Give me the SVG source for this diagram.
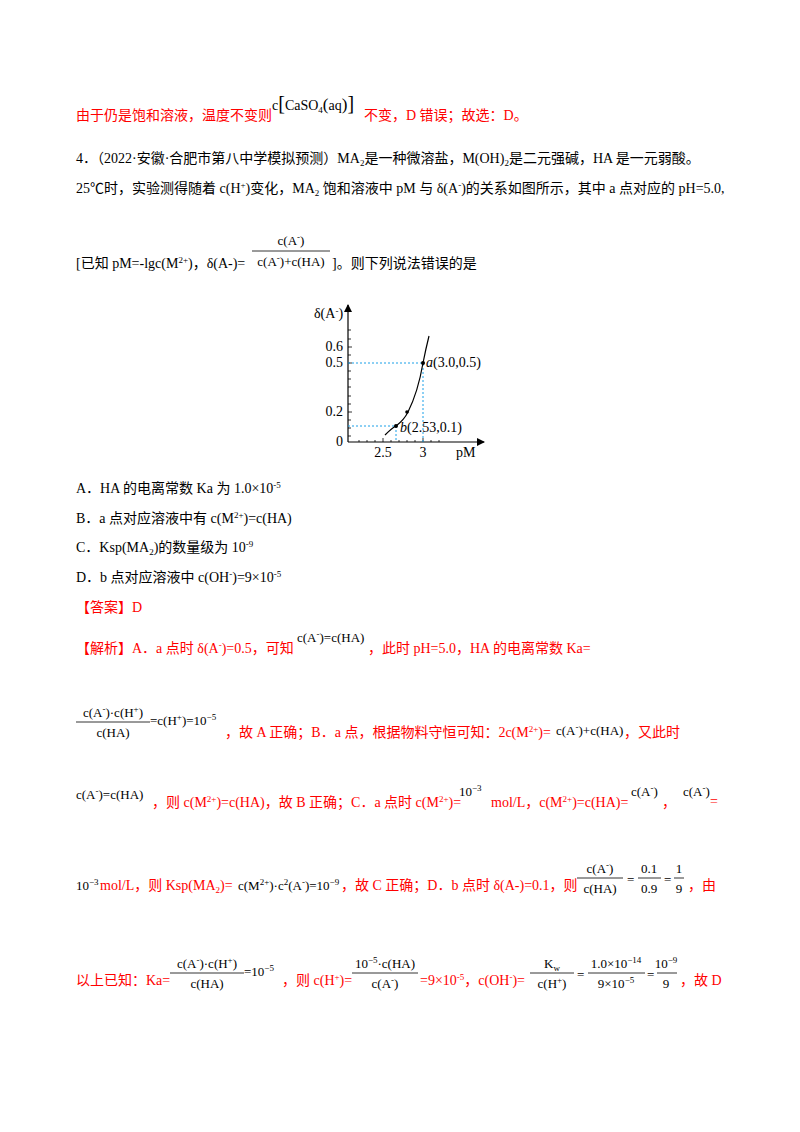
<svg xmlns="http://www.w3.org/2000/svg" width="800" height="1132" viewBox="0 0 800 1132">
<style>
text{font-family:"Liberation Serif","Noto Sans CJK SC",serif;font-size:14px;fill:#000}
.r{fill:#ff0000}
.m{font-size:13px}
.s{font-size:9px}
.ax{stroke:#000;stroke-width:1.2;fill:none}
.dot{stroke:#1aa0e8;stroke-width:1;stroke-dasharray:2 2;fill:none}
.bar{stroke:#000;stroke-width:0.8}
</style>
<defs><marker id="ar" markerWidth="8" markerHeight="8" refX="7" refY="4" orient="auto" markerUnits="userSpaceOnUse"><path d="M0,0 L8,4 L0,8 z" fill="#000"/></marker></defs>
<rect width="800" height="1132" fill="#fff"/>
<text x="76" y="120" class="r">由于仍是饱和溶液，温度不变则</text>
<text x="272" y="110" font-size="15">c<tspan font-size="20">[</tspan>CaSO<tspan class="s" dy="3">4</tspan><tspan dy="-3" font-size="17">(</tspan>aq<tspan font-size="17">)</tspan><tspan font-size="20">]</tspan></text>
<text x="364" y="120" class="r">不变，D 错误；故选：D。</text>
<text x="76" y="163">4．（2022·安徽·合肥市第八中学模拟预测）MA<tspan class="s" dy="3">2</tspan><tspan dy="-3">是一种微溶盐，M(OH)</tspan><tspan class="s" dy="3">2</tspan><tspan dy="-3">是二元强碱，HA 是一元弱酸。</tspan></text>
<text x="76" y="193">25℃时，实验测得随着 c(H<tspan class="s" dy="-5">+</tspan><tspan dy="5">)变化，MA</tspan><tspan class="s" dy="3">2</tspan><tspan dy="-3"> 饱和溶液中 pM 与 δ(A</tspan><tspan class="s" dy="-5">-</tspan><tspan dy="5">)的关系如图所示，其中 a 点对应的 pH=5.0,</tspan></text>
<text x="76" y="268">[已知 pM=-lgc(M<tspan class="s" dy="-5">2+</tspan><tspan dy="5">)，δ(A-)=</tspan></text>
<text x="291" y="245" class="m" text-anchor="middle">c(A<tspan class="s" dy="-5">-</tspan><tspan dy="5">)</tspan></text>
<line x1="252" y1="251" x2="330" y2="251" class="bar"/>
<text x="291" y="266" class="m" text-anchor="middle">c(A<tspan class="s" dy="-5">-</tspan><tspan dy="5">)+c(HA)</tspan></text>
<text x="332" y="268">]。则下列说法错误的是</text>
<g id="graph">
<line x1="348" y1="442" x2="348" y2="305" class="ax" marker-end="url(#ar)"/>
<line x1="348" y1="442" x2="484" y2="442" class="ax" marker-end="url(#ar)"/>
<path d="M348,347h4M348,363h4M348,412h4M348,330h3M348,339h3M348,355h3M348,371h3M348,379h3M348,387h3M348,396h3M348,404h3M348,420h3M348,428h3M348,436h3M383,442v-4M423,442v-4M359,442v-2M367,442v-2M375,442v-2M391,442v-2M399,442v-2M407,442v-2M415,442v-2M431,442v-2M439,442v-2" stroke="#000" stroke-width="0.8"/>
<path d="M348,363H423V442M348,426H396V442" class="dot"/>
<path d="M385,435 Q392,428 396,426 Q404,420 408,412 Q418,392 423,363 Q426,348 429,336" class="ax"/>
<circle cx="423" cy="363" r="2"/><circle cx="396" cy="426" r="2"/><circle cx="407" cy="412" r="1.8"/>
<text x="314" y="318" font-size="12">δ(A<tspan class="s" dy="-4">-</tspan><tspan dy="4">)</tspan></text>
<text x="343" y="351" font-size="12" text-anchor="end">0.6</text>
<text x="343" y="367" font-size="12" text-anchor="end">0.5</text>
<text x="343" y="416" font-size="12" text-anchor="end">0.2</text>
<text x="343" y="446" font-size="12" text-anchor="end">0</text>
<text x="383" y="457" font-size="12" text-anchor="middle">2.5</text>
<text x="423" y="457" font-size="12" text-anchor="middle">3</text>
<text x="456" y="457" font-size="12">pM</text>
<text x="426" y="367" font-size="12"><tspan font-style="italic">a</tspan>(3.0,0.5)</text>
<text x="400" y="432" font-size="12"><tspan font-style="italic">b</tspan>(2.53,0.1)</text>
</g>
<text x="76" y="493">A．HA 的电离常数 Ka 为 1.0×10<tspan class="s" dy="-5">-5</tspan></text>
<text x="76" y="523">B．a 点对应溶液中有 c(M<tspan class="s" dy="-5">2+</tspan><tspan dy="5">)=c(HA)</tspan></text>
<text x="76" y="552">C．Ksp(MA<tspan class="s" dy="3">2</tspan><tspan dy="-3">)的数量级为 10</tspan><tspan class="s" dy="-5">-9</tspan></text>
<text x="76" y="582">D．b 点对应溶液中 c(OH<tspan class="s" dy="-5">-</tspan><tspan dy="5">)=9×10</tspan><tspan class="s" dy="-5">-5</tspan></text>
<text x="76" y="612" class="r">【答案】D</text>
<text x="76" y="653" class="r">【解析】A．a 点时 δ(A<tspan class="s" dy="-5">-</tspan><tspan dy="5">)=0.5，可知</tspan></text>
<text x="297" y="642" class="m">c(A<tspan class="s" dy="-5">-</tspan><tspan dy="5">)=c(HA)</tspan></text>
<text x="368" y="653" class="r">，此时 pH=5.0，HA 的电离常数 Ka=</text>
<text x="113" y="717" class="m" text-anchor="middle">c(A<tspan class="s" dy="-5">-</tspan><tspan dy="5">)·c(H</tspan><tspan class="s" dy="-5">+</tspan><tspan dy="5">)</tspan></text>
<line x1="76" y1="722" x2="150" y2="722" class="bar"/>
<text x="113" y="737" class="m" text-anchor="middle">c(HA)</text>
<text x="150" y="725" class="m">=c(H<tspan class="s" dy="-5">+</tspan><tspan dy="5">)=10</tspan><tspan class="s" dy="-5">−5</tspan></text>
<text x="225" y="737" class="r">，故 A 正确；B．a 点，根据物料守恒可知：2c(M<tspan class="s" dy="-5">2+</tspan><tspan dy="5">)=</tspan></text>
<text x="556" y="735" class="m">c(A<tspan class="s" dy="-5">-</tspan><tspan dy="5">)+c(HA)</tspan></text>
<text x="624" y="737" class="r">，又此时</text>
<text x="76" y="799" class="m">c(A<tspan class="s" dy="-5">-</tspan><tspan dy="5">)=c(HA)</tspan></text>
<text x="152" y="807" class="r">，则 c(M<tspan class="s" dy="-5">2+</tspan><tspan dy="5">)=c(HA)，故 B 正确；C．a 点时 c(M</tspan><tspan class="s" dy="-5">2+</tspan><tspan dy="5">)=</tspan></text>
<text x="459" y="796" class="m">10<tspan class="s" dy="-5">−3</tspan></text>
<text x="491" y="807" class="r">mol/L，c(M<tspan class="s" dy="-5">2+</tspan><tspan dy="5">)=c(HA)=</tspan></text>
<text x="631" y="796" class="m">c(A<tspan class="s" dy="-5">-</tspan><tspan dy="5">)</tspan></text>
<text x="662" y="807" class="r">，</text>
<text x="683" y="796" class="m">c(A<tspan class="s" dy="-5">-</tspan><tspan dy="5">)</tspan></text>
<text x="710" y="806" class="r">=</text>
<text x="76" y="890" class="m">10<tspan class="s" dy="-5">−3</tspan></text>
<text x="100" y="890" class="r">mol/L，则 Ksp(MA<tspan class="s" dy="3">2</tspan><tspan dy="-3">)=</tspan></text>
<text x="238" y="890" class="m">c(M<tspan class="s" dy="-5">2+</tspan><tspan dy="5">)·c</tspan><tspan class="s" dy="-5">2</tspan><tspan dy="5">(A</tspan><tspan class="s" dy="-5">-</tspan><tspan dy="5">)=10</tspan><tspan class="s" dy="-5">−9</tspan></text>
<text x="341" y="890" class="r">，故 C 正确；D．b 点时 δ(A-)=0.1，则</text>
<text x="600" y="873" class="m" text-anchor="middle">c(A<tspan class="s" dy="-5">-</tspan><tspan dy="5">)</tspan></text>
<line x1="577" y1="878" x2="623" y2="878" class="bar"/>
<text x="600" y="893" class="m" text-anchor="middle">c(HA)</text>
<text x="627" y="884" class="m">=</text>
<text x="649" y="873" class="m" text-anchor="middle">0.1</text>
<line x1="638" y1="878" x2="661" y2="878" class="bar"/>
<text x="649" y="893" class="m" text-anchor="middle">0.9</text>
<text x="664" y="884" class="m">=</text>
<text x="679" y="873" class="m" text-anchor="middle">1</text>
<line x1="674" y1="878" x2="684" y2="878" class="bar"/>
<text x="679" y="893" class="m" text-anchor="middle">9</text>
<text x="688" y="890" class="r">，由</text>
<text x="76" y="985" class="r">以上已知：Ka=</text>
<text x="207" y="968" class="m" text-anchor="middle">c(A<tspan class="s" dy="-5">-</tspan><tspan dy="5">)·c(H</tspan><tspan class="s" dy="-5">+</tspan><tspan dy="5">)</tspan></text>
<line x1="170" y1="973" x2="244" y2="973" class="bar"/>
<text x="207" y="988" class="m" text-anchor="middle">c(HA)</text>
<text x="244" y="976" class="m">=10<tspan class="s" dy="-5">−5</tspan></text>
<text x="282" y="985" class="r">，则 c(H<tspan class="s" dy="-5">+</tspan><tspan dy="5">)=</tspan></text>
<text x="385" y="968" class="m" text-anchor="middle">10<tspan class="s" dy="-5">−5</tspan><tspan dy="5">·c(HA)</tspan></text>
<line x1="352" y1="973" x2="418" y2="973" class="bar"/>
<text x="385" y="988" class="m" text-anchor="middle">c(A<tspan class="s" dy="-5">-</tspan><tspan dy="5">)</tspan></text>
<text x="420" y="985" class="r">=9×10<tspan class="s" dy="-5">-5</tspan><tspan dy="5">，c(OH</tspan><tspan class="s" dy="-5">-</tspan><tspan dy="5">)=</tspan></text>
<text x="552" y="968" class="m" text-anchor="middle">K<tspan class="s" dy="3">w</tspan></text>
<line x1="530" y1="973" x2="574" y2="973" class="bar"/>
<text x="552" y="988" class="m" text-anchor="middle">c(H<tspan class="s" dy="-5">+</tspan><tspan dy="5">)</tspan></text>
<text x="577" y="979" class="m">=</text>
<text x="616" y="968" class="m" text-anchor="middle">1.0×10<tspan class="s" dy="-5">−14</tspan></text>
<line x1="588" y1="973" x2="645" y2="973" class="bar"/>
<text x="616" y="988" class="m" text-anchor="middle">9×10<tspan class="s" dy="-5">−5</tspan></text>
<text x="647" y="979" class="m">=</text>
<text x="666" y="968" class="m" text-anchor="middle">10<tspan class="s" dy="-5">−9</tspan></text>
<line x1="657" y1="973" x2="677" y2="973" class="bar"/>
<text x="666" y="988" class="m" text-anchor="middle">9</text>
<text x="680" y="985" class="r">，故 D</text>
</svg>
